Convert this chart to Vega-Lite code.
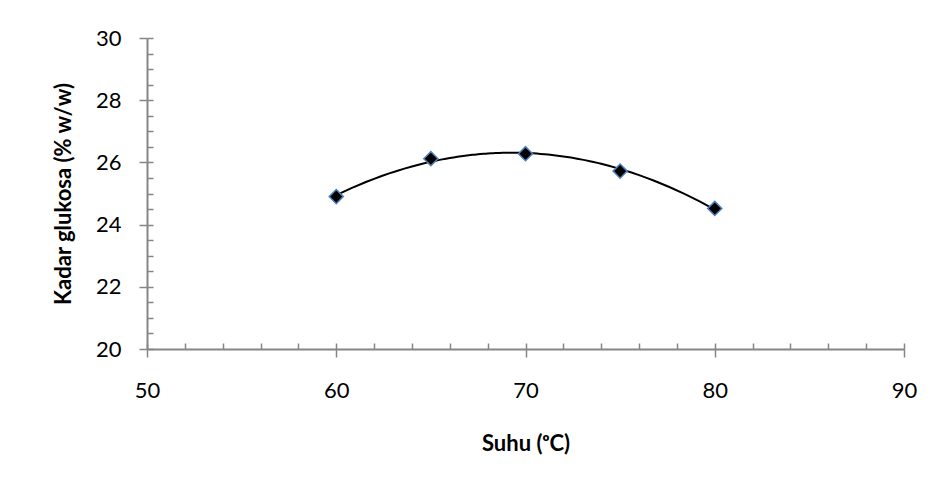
{
  "$schema": "https://vega.github.io/schema/vega-lite/v6.json",
  "width": 757,
  "height": 311,
  "autosize": "none",
  "padding": {"left": 147, "top": 38, "right": 32, "bottom": 132},
  "background": "white",
  "config": {"view": {"stroke": null}, "font": "Lato"},
  "data": {
    "values": [
      {"suhu": 60, "kadar": 24.9},
      {"suhu": 65, "kadar": 26.12},
      {"suhu": 70, "kadar": 26.28},
      {"suhu": 75, "kadar": 25.72},
      {"suhu": 80, "kadar": 24.52}
    ]
  },
  "layer": [
    {
      "transform": [
        {"regression": "kadar", "on": "suhu", "method": "poly", "order": 2, "extent": [60, 80]}
      ],
      "mark": {"type": "line", "color": "black", "strokeWidth": 2},
      "encoding": {
        "x": {
          "field": "suhu", "type": "quantitative",
          "scale": {"domain": [50, 90], "nice": false, "zero": false},
          "axis": {
            "orient": "bottom", "values": [50,52,54,56,58,60,62,64,66,68,70,72,74,76,78,80,82,84,86,88,90],
            "tickSize": -6, "tickColor": "#868686", "tickWidth": 1.5,
            "labels": false, "domain": false, "grid": false, "title": null
          }
        },
        "y": {
          "field": "kadar", "type": "quantitative",
          "scale": {"domain": [20, 30], "nice": false, "zero": false},
          "axis": {
            "orient": "left", "values": [20,20.5,21,21.5,22,22.5,23,23.5,24,24.5,25,25.5,26,26.5,27,27.5,28,28.5,29,29.5,30],
            "tickSize": -6, "tickColor": "#868686", "tickWidth": 1.5,
            "labels": false, "domain": false, "grid": false, "title": null
          }
        }
      }
    },
    {
      "mark": {"type": "point", "shape": "diamond", "filled": true, "fill": "black", "stroke": "#4f81bd", "strokeWidth": 1.5, "size": 200, "opacity": 1},
      "encoding": {
        "x": {
          "field": "suhu", "type": "quantitative",
          "scale": {"domain": [50, 90], "nice": false, "zero": false},
          "axis": {
            "orient": "bottom", "values": [50, 60, 70, 80, 90],
            "tickSize": 8, "tickColor": "#868686", "tickWidth": 1.5,
            "domainColor": "#868686", "domainWidth": 2,
            "labelFontSize": 22, "labelColor": "black", "labelPadding": 23, "labelFlush": false,
            "grid": false,
            "title": "Suhu (ᵒC)", "titleFontSize": 22, "titleFontWeight": "bold", "titleColor": "black", "titlePadding": 32
          }
        },
        "y": {
          "field": "kadar", "type": "quantitative",
          "scale": {"domain": [20, 30], "nice": false, "zero": false},
          "axis": {
            "orient": "left", "values": [20, 22, 24, 26, 28, 30],
            "tickSize": 8, "tickColor": "#868686", "tickWidth": 1.5,
            "domainColor": "#868686", "domainWidth": 2,
            "labelFontSize": 22, "labelColor": "black", "labelPadding": 18, "labelFlush": false,
            "grid": false,
            "title": "Kadar glukosa (% w/w)", "titleFontSize": 22, "titleFontWeight": "bold", "titleColor": "black", "titlePadding": 20
          }
        }
      }
    }
  ],
  "resolve": {"axis": {"x": "independent", "y": "independent"}}
}
